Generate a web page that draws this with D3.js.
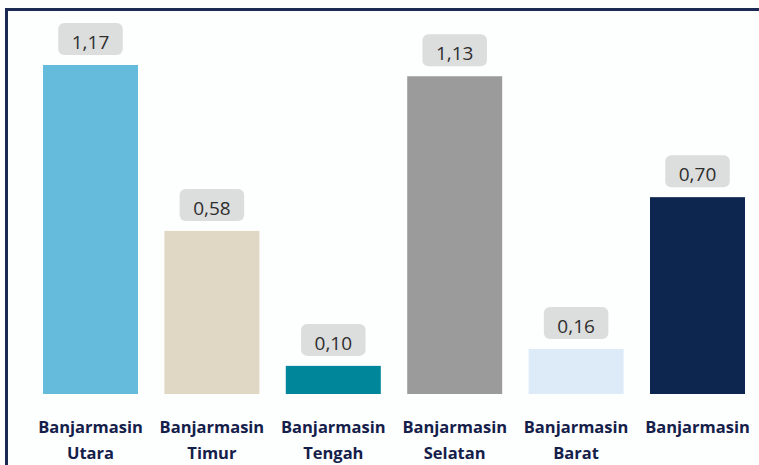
<!DOCTYPE html>
<html><head><meta charset="utf-8">
<script src="https://cdn.jsdelivr.net/npm/d3@7"></script>
<style>html,body{margin:0;padding:0;background:#fdfefe;}svg{display:block;}</style>
</head><body>
<script>
const categories = [["Banjarmasin","Utara"],["Banjarmasin","Timur"],["Banjarmasin","Tengah"],["Banjarmasin","Selatan"],["Banjarmasin","Barat"],["Banjarmasin"]];
const values = [1.17, 0.58, 0.10, 1.13, 0.16, 0.70];
const valueLabels = ["1,17","0,58","0,10","1,13","0,16","0,70"];
const colors = ["#65bbdc","#e0d8c4","#00869a","#9b9b9b","#ddeaf8","#0d2650"];

const W = 759, H = 465;
const svg = d3.select("body").append("svg").attr("width", W).attr("height", H);
svg.append("rect").attr("width", W).attr("height", H).attr("fill", "#fdfefe");
// frame (left and top edges visible)
svg.append("path").attr("d", `M6.5,${H} V9.5 H${W}`).attr("fill","none").attr("stroke","#1b2a55").attr("stroke-width",3);

const idx = d3.range(values.length);
const x = d3.scaleBand().domain(idx).range([43, 745]).paddingInner(0.2175).paddingOuter(0);
const y = d3.scaleLinear().domain([0, 1.17]).range([394, 65]);

const g = svg.append("g");
g.selectAll("rect.bar").data(idx).join("rect").attr("class","bar")
  .attr("x", i => x(i)).attr("width", x.bandwidth())
  .attr("y", i => y(values[i])).attr("height", i => y(0) - y(values[i]))
  .attr("fill", i => colors[i]);

const bh = 32, gap = 10;
const lblG = g.selectAll("g.lbl").data(idx).join("g").attr("class","lbl")
  .attr("transform", i => `translate(${x(i) + x.bandwidth()/2},${y(values[i]) - gap - bh})`);
const boxes = lblG.append("rect").attr("y", 0).attr("height", bh).attr("rx", 6).attr("fill", "#dcdddd");
const txt = lblG.append("text").attr("x", 0).attr("y", bh/2 + 10)
  .attr("text-anchor","middle").attr("font-family","'Open Sans', sans-serif").attr("font-size", 19)
  .attr("fill","#2e2e2e").text(i => valueLabels[i]);
txt.each(function(i){
  const w = this.getComputedTextLength() + 27;
  d3.select(this.parentNode).select("rect").attr("x", -w/2).attr("width", w);
});

const cat = g.selectAll("text.cat").data(idx).join("text").attr("class","cat")
  .attr("text-anchor","middle").attr("font-family","'Open Sans', sans-serif").attr("font-weight","bold")
  .attr("font-size", 16.5).attr("fill","#15204a");
cat.each(function(i){
  const t = d3.select(this);
  categories[i].forEach((s, k) => {
    t.append("tspan").attr("x", x(i) + x.bandwidth()/2).attr("y", 433 + k*26).text(s);
  });
});
</script>
</body></html>
